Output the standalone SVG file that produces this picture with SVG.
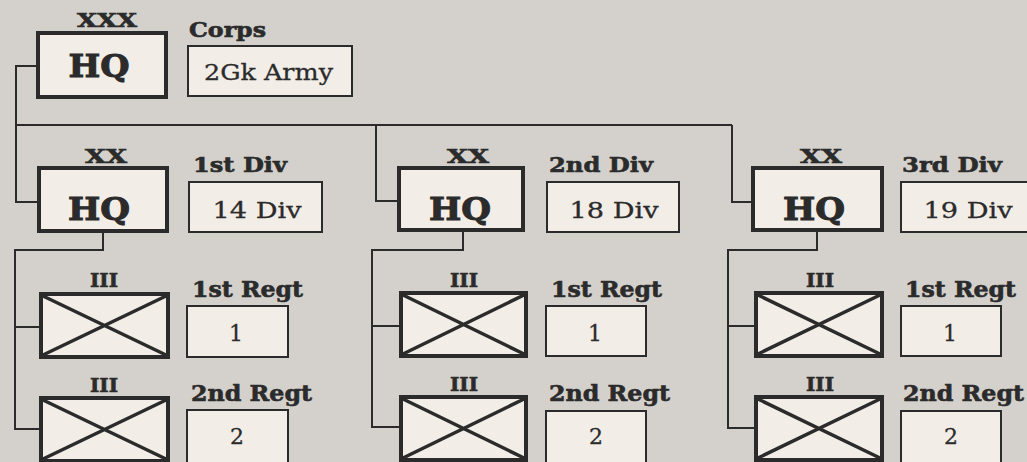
<svg xmlns="http://www.w3.org/2000/svg" width="1027" height="462" viewBox="0 0 1027 462">
<style>
.bg{fill:#d4d1cc}
.hq{fill:#f2ede7;stroke:#2b2b2b;stroke-width:4}
.nm{fill:#f2ede7;stroke:#2b2b2b;stroke-width:2}
.rg{fill:#f2ede7;stroke:#2b2b2b;stroke-width:4}
.x{stroke:#2b2b2b;stroke-width:3.5;fill:none}
.ln{stroke:#2b2b2b;stroke-width:2;fill:none}
.lb{font-family:"DejaVu Serif",serif;font-weight:bold;fill:#2b2b2b;stroke:#2b2b2b;stroke-width:0.6}
.big{font-family:"DejaVu Serif",serif;font-weight:bold;font-size:32px;fill:#2b2b2b;stroke:#2b2b2b;stroke-width:1}
.tx{font-family:"DejaVu Serif",serif;font-size:22px;fill:#2b2b2b;stroke:#2b2b2b;stroke-width:0.3}
</style>
<rect class="bg" x="0" y="0" width="1027" height="462"/>

<g id="connectors">
<polyline class="ln" points="38,66 16,66 16,202 39,202"/>
<polyline class="ln" points="16,125 732,125"/>
<polyline class="ln" points="376,125 376,201 399,201"/>
<polyline class="ln" points="732,125 732,202 753,202"/>
<polyline class="ln" points="103,231 103,250 15,250 15,429 41,429"/>
<line class="ln" x1="15" y1="327" x2="41" y2="327"/>
<polyline class="ln" points="463,231 463,250 372,250 372,427 401,427"/>
<line class="ln" x1="372" y1="326" x2="401" y2="326"/>
<polyline class="ln" points="817,231 817,250 728,250 728,428 756,428"/>
<line class="ln" x1="728" y1="326" x2="756" y2="326"/>
</g>

<g id="corps">
<text class="lb" x="107" y="27" font-size="19" text-anchor="middle" textLength="60" lengthAdjust="spacingAndGlyphs">XXX</text>
<rect class="hq" x="38" y="33" width="128" height="64"/>
<text class="big" x="99" y="77" text-anchor="middle" textLength="61" lengthAdjust="spacingAndGlyphs">HQ</text>
<text class="lb" x="189" y="37" font-size="21" textLength="77" lengthAdjust="spacingAndGlyphs">Corps</text>
<rect class="nm" x="188" y="46" width="164" height="50"/>
<text class="tx" x="204" y="80" font-size="23" textLength="129" lengthAdjust="spacingAndGlyphs">2Gk Army</text>
</g>

<g id="div1">
<text class="lb" x="106" y="163" font-size="18" text-anchor="middle" textLength="42" lengthAdjust="spacingAndGlyphs">XX</text>
<rect class="hq" x="39" y="168" width="128" height="63"/>
<text class="big" x="99" y="220" text-anchor="middle" textLength="62" lengthAdjust="spacingAndGlyphs">HQ</text>
<text class="lb" x="193" y="172" font-size="21" textLength="94" lengthAdjust="spacingAndGlyphs">1st Div</text>
<rect class="nm" x="189" y="182" width="133" height="50"/>
<text class="tx" x="257" y="218" text-anchor="middle" font-size="23" textLength="89" lengthAdjust="spacingAndGlyphs">14 Div</text>
</g>
<g id="div1-regt1">
<text class="lb" x="104" y="287" font-size="19" text-anchor="middle" textLength="28" lengthAdjust="spacingAndGlyphs">III</text>
<rect class="rg" x="41" y="294" width="127" height="63"/>
<path class="x" d="M43,296 L166,355 M43,355 L166,296"/>
<text class="lb" x="192" y="297" font-size="22" textLength="111" lengthAdjust="spacingAndGlyphs">1st Regt</text>
<rect class="nm" x="187" y="306" width="101" height="51"/>
<text class="tx" x="236" y="341" text-anchor="middle" font-size="26">1</text>
</g>
<g id="div1-regt2">
<text class="lb" x="104" y="392" font-size="19" text-anchor="middle" textLength="28" lengthAdjust="spacingAndGlyphs">III</text>
<rect class="rg" x="41" y="398" width="127" height="63"/>
<path class="x" d="M43,400 L166,459 M43,459 L166,400"/>
<text class="lb" x="191" y="401" font-size="22" textLength="121" lengthAdjust="spacingAndGlyphs">2nd Regt</text>
<rect class="nm" x="187" y="410" width="101" height="56"/>
<text class="tx" x="237" y="444" text-anchor="middle" font-size="26">2</text>
</g>

<g id="div2">
<text class="lb" x="468" y="163" font-size="18" text-anchor="middle" textLength="42" lengthAdjust="spacingAndGlyphs">XX</text>
<rect class="hq" x="399" y="168" width="124" height="62"/>
<text class="big" x="460" y="220" text-anchor="middle" textLength="62" lengthAdjust="spacingAndGlyphs">HQ</text>
<text class="lb" x="549" y="172" font-size="21" textLength="104" lengthAdjust="spacingAndGlyphs">2nd Div</text>
<rect class="nm" x="547" y="182" width="132" height="50"/>
<text class="tx" x="614" y="218" text-anchor="middle" font-size="23" textLength="89" lengthAdjust="spacingAndGlyphs">18 Div</text>
</g>
<g id="div2-regt1">
<text class="lb" x="464" y="287" font-size="19" text-anchor="middle" textLength="28" lengthAdjust="spacingAndGlyphs">III</text>
<rect class="rg" x="401" y="293" width="125" height="63"/>
<path class="x" d="M403,295 L524,354 M403,354 L524,295"/>
<text class="lb" x="551" y="297" font-size="22" textLength="111" lengthAdjust="spacingAndGlyphs">1st Regt</text>
<rect class="nm" x="546" y="306" width="100" height="50"/>
<text class="tx" x="595" y="341" text-anchor="middle" font-size="26">1</text>
</g>
<g id="div2-regt2">
<text class="lb" x="464" y="391" font-size="19" text-anchor="middle" textLength="28" lengthAdjust="spacingAndGlyphs">III</text>
<rect class="rg" x="401" y="397" width="125" height="63"/>
<path class="x" d="M403,399 L524,458 M403,458 L524,399"/>
<text class="lb" x="549" y="401" font-size="22" textLength="121" lengthAdjust="spacingAndGlyphs">2nd Regt</text>
<rect class="nm" x="546" y="411" width="100" height="55"/>
<text class="tx" x="596" y="444" text-anchor="middle" font-size="26">2</text>
</g>

<g id="div3">
<text class="lb" x="821" y="163" font-size="18" text-anchor="middle" textLength="42" lengthAdjust="spacingAndGlyphs">XX</text>
<rect class="hq" x="753" y="168" width="129" height="62"/>
<text class="big" x="814" y="220" text-anchor="middle" textLength="62" lengthAdjust="spacingAndGlyphs">HQ</text>
<text class="lb" x="902" y="172" font-size="21" textLength="100" lengthAdjust="spacingAndGlyphs">3rd Div</text>
<rect class="nm" x="901" y="182" width="140" height="50"/>
<text class="tx" x="968" y="218" text-anchor="middle" font-size="23" textLength="89" lengthAdjust="spacingAndGlyphs">19 Div</text>
</g>
<g id="div3-regt1">
<text class="lb" x="820" y="287" font-size="19" text-anchor="middle" textLength="28" lengthAdjust="spacingAndGlyphs">III</text>
<rect class="rg" x="756" y="293" width="126" height="63"/>
<path class="x" d="M758,295 L880,354 M758,354 L880,295"/>
<text class="lb" x="905" y="297" font-size="22" textLength="111" lengthAdjust="spacingAndGlyphs">1st Regt</text>
<rect class="nm" x="901" y="306" width="100" height="50"/>
<text class="tx" x="950" y="341" text-anchor="middle" font-size="26">1</text>
</g>
<g id="div3-regt2">
<text class="lb" x="820" y="391" font-size="19" text-anchor="middle" textLength="28" lengthAdjust="spacingAndGlyphs">III</text>
<rect class="rg" x="756" y="397" width="126" height="63"/>
<path class="x" d="M758,399 L880,458 M758,458 L880,399"/>
<text class="lb" x="903" y="401" font-size="22" textLength="121" lengthAdjust="spacingAndGlyphs">2nd Regt</text>
<rect class="nm" x="901" y="411" width="100" height="55"/>
<text class="tx" x="951" y="444" text-anchor="middle" font-size="26">2</text>
</g>
</svg>
